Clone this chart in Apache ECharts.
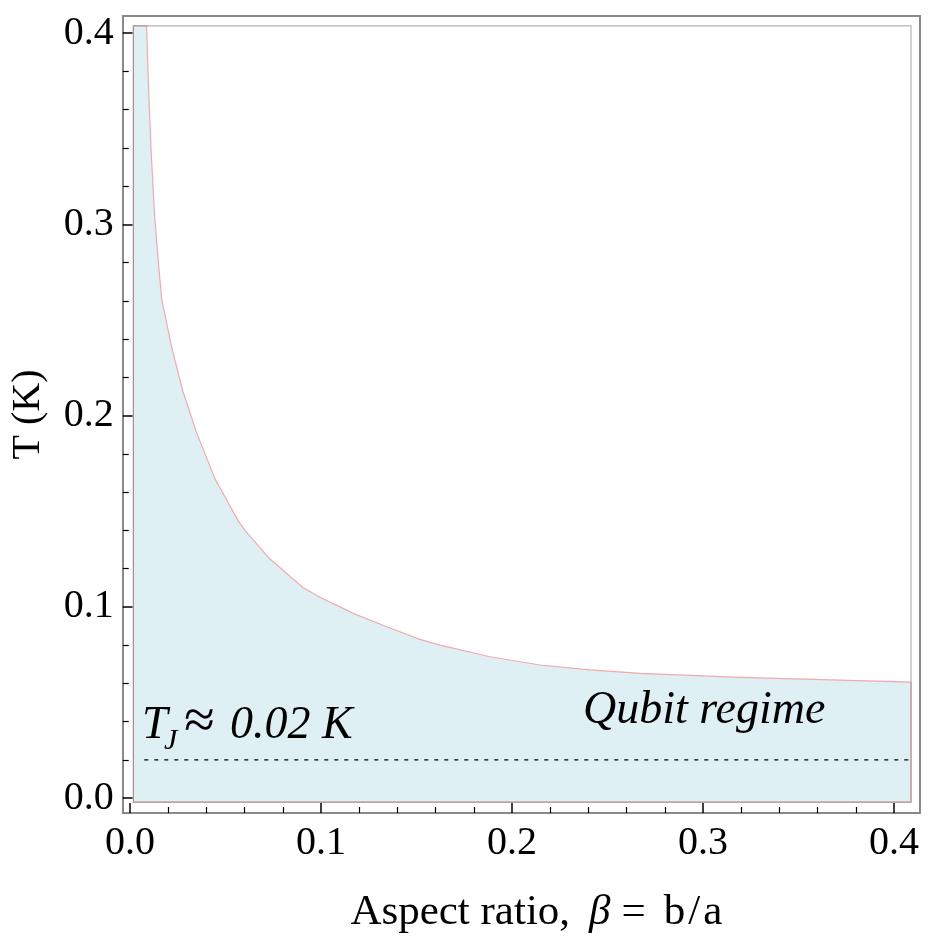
<!DOCTYPE html>
<html>
<head>
<meta charset="utf-8">
<script src="https://cdn.jsdelivr.net/npm/echarts@6/dist/echarts.min.js"></script>
<style>
  html, body { margin: 0; padding: 0; background: #fff; }
  #chart { width: 945px; height: 945px; }
</style>
</head>
<body>
<div id="chart"></div>
<script>
// boundary curve T(beta)
const curveBeta = [0.0087, 0.0096, 0.011, 0.0128, 0.0148, 0.0166, 0.0218, 0.0276, 0.0349, 0.0445, 0.0567,
  0.0602, 0.0733, 0.0907, 0.0995, 0.1169, 0.1344, 0.1518, 0.1623, 0.1885, 0.2147,
  0.2408, 0.267, 0.3194, 0.3717, 0.4089];
const curveT = [0.4038, 0.375, 0.340, 0.306, 0.281, 0.261, 0.236, 0.213, 0.191, 0.167, 0.145,
  0.140, 0.125, 0.110, 0.105, 0.0966, 0.0896, 0.083, 0.080, 0.0739, 0.0696,
  0.067, 0.0652, 0.0631, 0.0617, 0.0606];

// plot range of the region (inner frame)
const rangeBeta = [0.0018, 0.4089];
const rangeT = [-0.0021, 0.4038];

// T_J line
const tjBeta = [0.0075, 0.408];
const tjT = [0.02, 0.02];

const majorTicks = [0, 0.1, 0.2, 0.3, 0.4];
const minorTicks = [0.02, 0.04, 0.06, 0.08, 0.12, 0.14, 0.16, 0.18, 0.22, 0.24, 0.26, 0.28,
  0.32, 0.34, 0.36, 0.38];

const xMin = -0.0038, xMax = 0.4136;
const yMin = -0.0078, yMax = 0.409;

const regionX = [rangeBeta[0], rangeBeta[0]].concat(curveBeta, [rangeBeta[1]]);
const regionY = [rangeT[0], rangeT[1]].concat(curveT, [rangeT[0]]);

const chart = echarts.init(document.getElementById('chart'));
const serif = 'Liberation Serif, Times New Roman, serif';
const frameColor = '#8a8a8a';

function fmt(v) {
  return v.toFixed(1);
}

const titleFont = { fontFamily: serif, fontSize: 43, color: '#000' };

const option = {
  animation: false,
  grid: { left: 122.7, top: 16, right: 25, bottom: 132, outerBoundsMode: 'none', containLabel: false },
  xAxis: [
    {
      type: 'value', min: xMin, max: xMax, position: 'bottom',
      name: '{n|Aspect ratio,}{b|β}{e|=}{t|b}{s|/}{t|a}', nameLocation: 'middle', nameGap: 78,
      nameTextStyle: {
        rich: {
          n: Object.assign({ padding: [0, 19, 0, 30] }, titleFont),
          b: Object.assign({ fontStyle: 'italic', padding: [0, 11, 0, 0] }, titleFont),
          e: Object.assign({ padding: [0, 18, 0, 0] }, titleFont),
          t: Object.assign({}, titleFont),
          s: Object.assign({ padding: [0, 3, 0, 3] }, titleFont)
        }
      },
      axisLine: { show: true, onZero: false, lineStyle: { color: frameColor, width: 2 } },
      axisTick: { show: true, inside: true, length: 10, customValues: majorTicks, lineStyle: { color: '#000', width: 1.5 } },
      axisLabel: { customValues: majorTicks, formatter: fmt, fontFamily: serif, fontSize: 40, color: '#000', margin: 10 },
      splitLine: { show: false }
    },
    {
      type: 'value', min: xMin, max: xMax, position: 'bottom',
      axisLine: { show: false, onZero: false },
      axisTick: { show: true, inside: true, length: 6, customValues: minorTicks, lineStyle: { color: '#000', width: 1.2 } },
      axisLabel: { show: false },
      splitLine: { show: false }
    },
    {
      type: 'value', min: xMin, max: xMax, position: 'top',
      axisLine: { show: true, onZero: false, lineStyle: { color: frameColor, width: 2 } },
      axisTick: { show: false }, axisLabel: { show: false }, splitLine: { show: false }
    }
  ],
  yAxis: [
    {
      type: 'value', min: yMin, max: yMax, position: 'left',
      name: 'T (K)', nameLocation: 'middle', nameGap: 74, nameRotate: 90,
      nameTextStyle: { fontFamily: serif, fontSize: 40, color: '#000' },
      axisLine: { show: true, onZero: false, lineStyle: { color: frameColor, width: 2 } },
      axisTick: { show: true, inside: true, length: 10, customValues: majorTicks, lineStyle: { color: '#000', width: 1.5 } },
      axisLabel: { customValues: majorTicks, formatter: fmt, fontFamily: serif, fontSize: 40, color: '#000', margin: 9 },
      splitLine: { show: false }
    },
    {
      type: 'value', min: yMin, max: yMax, position: 'left',
      axisLine: { show: false, onZero: false },
      axisTick: { show: true, inside: true, length: 6, customValues: minorTicks, lineStyle: { color: '#000', width: 1.2 } },
      axisLabel: { show: false },
      splitLine: { show: false }
    },
    {
      type: 'value', min: yMin, max: yMax, position: 'right',
      axisLine: { show: true, onZero: false, lineStyle: { color: frameColor, width: 2 } },
      axisTick: { show: false }, axisLabel: { show: false }, splitLine: { show: false }
    }
  ],
  series: [
    {
      type: 'custom',
      xAxisIndex: 0, yAxisIndex: 0,
      data: [[0, 0]],
      renderItem(params, api) {
        const pts = regionX.map((x, i) => api.coord([x, regionY[i]]));
        return {
          type: 'polygon',
          shape: { points: pts },
          style: { fill: '#dff0f5', stroke: '#f3a9a9', lineWidth: 1.2 }
        };
      },
      silent: true
    },
    {
      type: 'custom',
      xAxisIndex: 0, yAxisIndex: 0,
      data: [[0, 0]],
      renderItem(params, api) {
        const p0 = api.coord([rangeBeta[0], rangeT[1]]);
        const p1 = api.coord([rangeBeta[1], rangeT[0]]);
        return {
          type: 'rect',
          shape: { x: p0[0], y: p0[1], width: p1[0] - p0[0], height: p1[1] - p0[1] },
          style: { fill: 'none', stroke: 'rgba(120,120,120,0.55)', lineWidth: 1.2 }
        };
      },
      silent: true
    },
    {
      type: 'line',
      xAxisIndex: 0, yAxisIndex: 0,
      data: tjBeta.map((x, i) => [x, tjT[i]]),
      symbol: 'none',
      lineStyle: { color: '#000', width: 1.4, type: [4, 6] },
      silent: true
    }
  ],
  graphic: [
    { type: 'text', z: 100, left: 583, top: 688, style: { text: 'Qubit regime', font: 'italic 46px ' + serif, fill: '#000' } },
    { type: 'text', z: 100, left: 142, top: 703, style: { text: 'T', font: 'italic 46px ' + serif, fill: '#000' } },
    { type: 'text', z: 100, left: 164, top: 726, style: { text: 'J', font: 'italic 30px ' + serif, fill: '#000' } },
    { type: 'text', z: 100, left: 184, top: 695, style: { text: '≈', font: '56px ' + serif, fill: '#000' } },
    { type: 'text', z: 100, left: 230, top: 703, style: { text: '0.02 K', font: 'italic 46px ' + serif, fill: '#000' } }
  ]
};

chart.setOption(option);
</script>
</body>
</html>
